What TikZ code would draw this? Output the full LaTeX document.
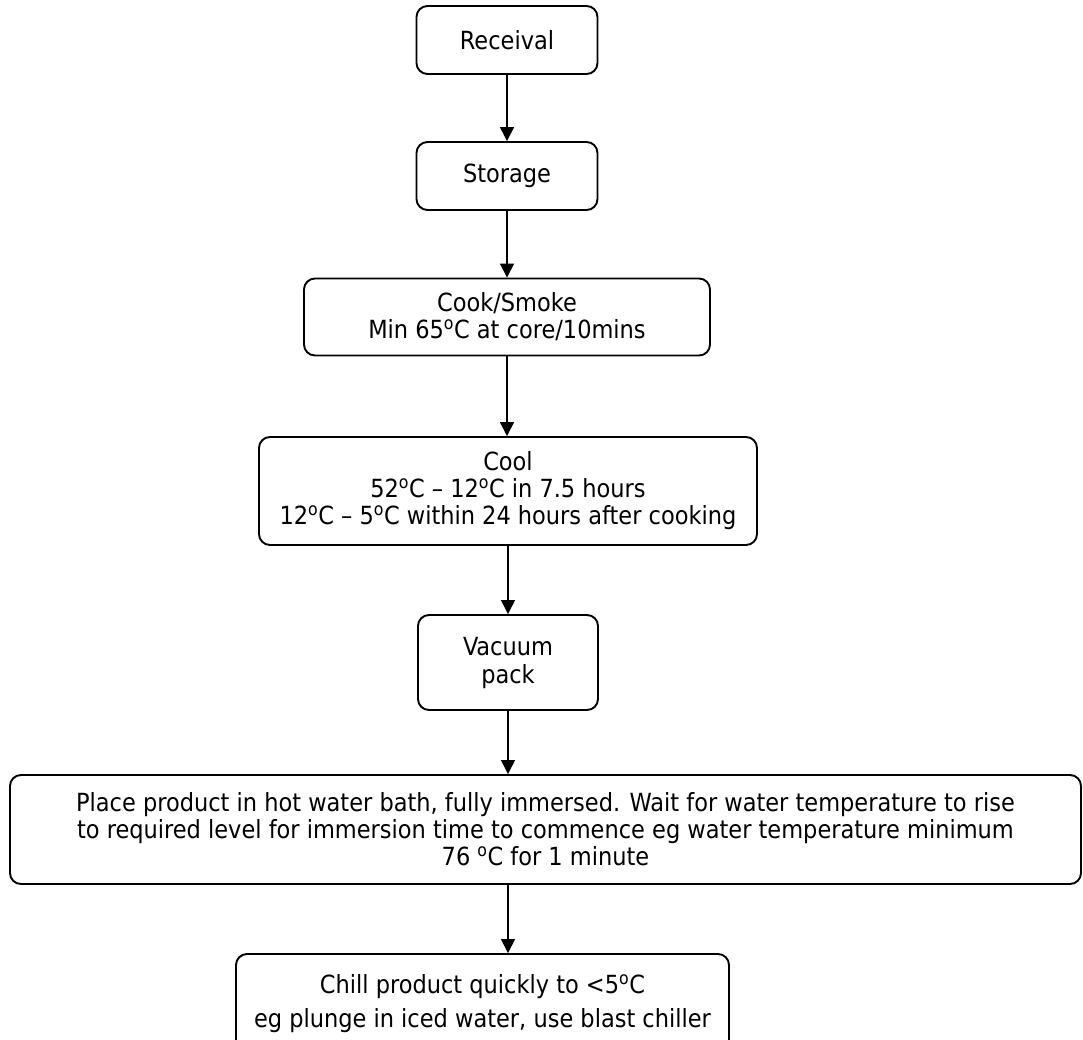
\documentclass[tikz,border=0pt]{standalone}
\usepackage{fontspec}
\setmainfont{DejaVu Sans Condensed}
\usepackage{tikz}
\usetikzlibrary{arrows.meta}
\newcommand{\degC}{\textsuperscript{o}C}

\begin{document}
\begin{tikzpicture}[x=1pt, y=1pt,
    stepbox/.style={draw, line width=1.9pt, rounded corners=11pt,
      align=center, inner sep=0pt, font=\fontsize{25}{27}\selectfont},
    flow/.style={line width=1.4pt, -{Triangle[width=14pt,length=14pt]}},
  ]
    \useasboundingbox (0,0) rectangle (1083,-1040);
    \clip (0,0) rectangle (1083,-1040);
    \node[stepbox, minimum width=181, minimum height=68] (rec) at (507,-40) {Receival};
    \node[stepbox, minimum width=181, minimum height=68] (sto) at (507,-176) {Storage};
    \node[stepbox, minimum width=406, minimum height=77] (cook) at (507,-317) {%
      Cook/Smoke\\
      Min 65\degC{} at core/10mins
    };
    \node[stepbox, minimum width=498, minimum height=108] (cool) at (508,-491) {%
      Cool\\
      52\degC{} -- 12\degC{} in 7.5 hours\\
      12\degC{} -- 5\degC{} within 24 hours after cooking
    };
    \node[stepbox, minimum width=180, minimum height=95,
      font=\fontsize{25}{28}\selectfont] (vac) at (508,-662.5) {%
      Vacuum\\
      pack
    };
    \node[stepbox, minimum width=1071, minimum height=109] (bath) at (545.5,-829.5) {%
      Place product in hot water bath, fully immersed. Wait for water temperature to rise\\
      to required level for immersion time to commence eg water temperature minimum\\
      76 \degC{} for 1 minute
    };
    \node[stepbox, minimum width=493, minimum height=100,
      font=\fontsize{25}{34}\selectfont] (chill) at (482.5,-1004) {%
      Chill product quickly to <5\degC\\
      eg plunge in iced water, use blast chiller
    };
    \draw[flow] (rec) -- (sto);
    \draw[flow] (sto) -- (cook);
    \draw[flow] (cook) -- (cook |- cool.north);
    \draw[flow] (cool) -- (vac);
    \draw[flow] (vac) -- (vac |- bath.north);
    \draw[flow] (vac |- bath.south) -- (vac |- chill.north);
  \end{tikzpicture}
\end{document}
